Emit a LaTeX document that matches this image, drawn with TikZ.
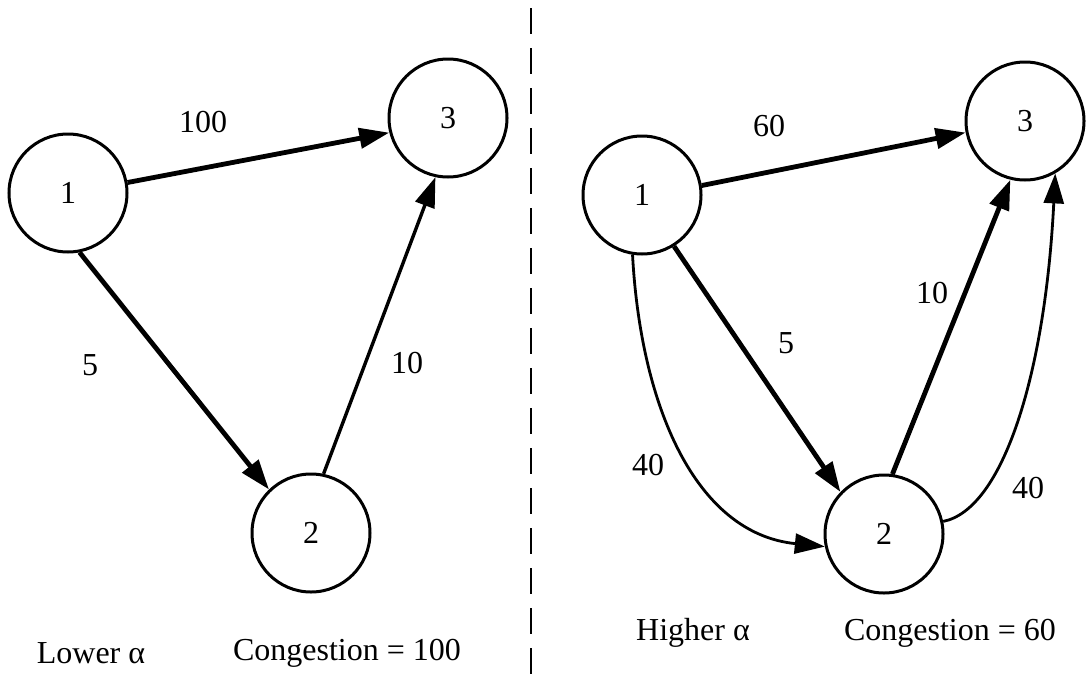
\documentclass[tikz,border=0pt]{standalone}
\usepackage{fontspec}
\setmainfont{Liberation Serif}
\usetikzlibrary{arrows.meta}
\tikzset{
  vert/.style= {draw, circle, line width=1.5pt, minimum size=59pt, inner sep=0},
  lbl/.style= {font=\fontsize{16}{19}\selectfont},
  flow/.style= {-{Triangle[length=15pt,width=10pt]}, line width=2.4pt},
  lflow/.style= {-{Triangle[length=15pt,width=10pt]}, line width=1.7pt},
  cflow/.style= {-{Triangle[length=15pt,width=10pt]}, line width=1.4pt},
}

\begin{document}
\begin{tikzpicture}[x=0.5pt, y=-0.5pt, every node/.style={lbl}]
  \useasboundingbox (0,0) rectangle (1087,685);

  % lower alpha
  \node [vert] (l1) at (68,193) {1} ;
  \node [vert] (l3) at (448,118) {3} ;
  \node [vert] (l2) at (311,533) {2} ;

  \draw [flow] (l1.10) -- (l3.194) ;
  \draw [flow] (l1.-79) -- (l2.134) ;
  \draw [lflow] (l2.78) -- (l3.-102) ;

  \node (w13) at (203,122) {100} ;
  \node (w12) at (90,365) {5} ;
  \node (w23) at (407,363) {10} ;
  \node (lowa) at (91,653) {Lower α} ;
  \node (lowc) at (347,653) {Congestion = 100} ;

  % separator
  \coordinate (top) at (531,8) ;
  \coordinate (bot) at (531,685) ;
  \draw [line width=1.2pt, dash pattern=on 13pt off 7pt] (top) -- (bot) ;

  % higher alpha
  \node [vert] (r1) at (642,195) {1} ;
  \node [vert] (r3) at (1025,121) {3} ;
  \node [vert] (r2) at (884,534) {2} ;

  \draw [flow] (r1.9) -- (r3.191) ;
  \draw [flow] (r1.-58) -- (r2.136) ;
  \draw [flow] (r2.82) -- (r3.-104) ;
  \draw [cflow] (r1.-99) .. controls +(8,150) and +(-130,-13) .. (r2.192) ;
  \draw [cflow] (r2.12) .. controls +(60,-12) and +(-10,200) .. (r3.-60) ;

  \node (v13) at (769,126) {60} ;
  \node (v12) at (786,343) {5} ;
  \node (v23) at (932,293) {10} ;
  \node (v12c) at (648,465) {40} ;
  \node (v23c) at (1028,488) {40} ;
  \node (higha) at (693,633) {Higher α} ;
  \node (highc) at (950,633) {Congestion = 60} ;
\end{tikzpicture}
\end{document}
